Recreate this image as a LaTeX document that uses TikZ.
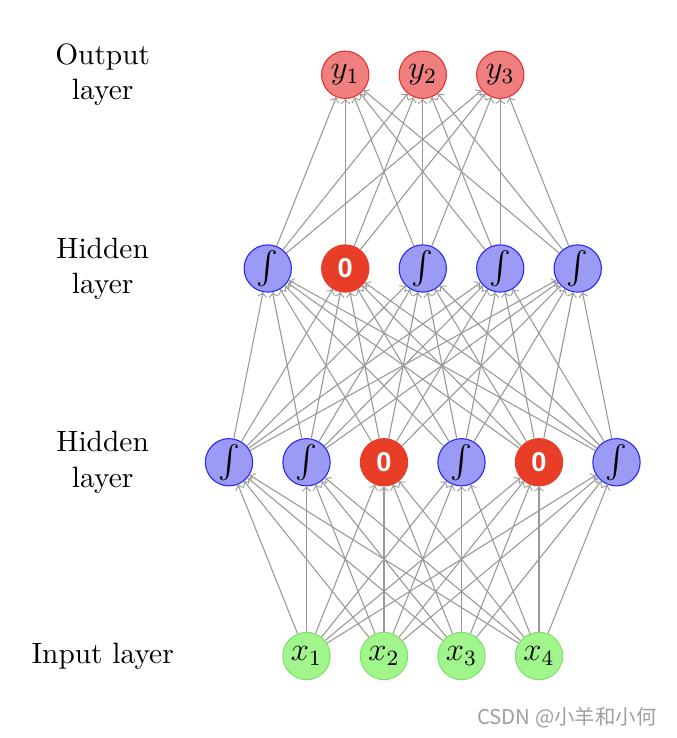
\documentclass[tikz,border=0pt]{standalone}
\usepackage{amsmath}
\usepackage{fontspec}
\newfontfamily\zerofont{Liberation Sans}
\newfontfamily\cjkfont{Noto Sans CJK SC}
\definecolor{infill}{RGB}{160,245,140}
\definecolor{indraw}{RGB}{130,225,110}
\definecolor{hidfill}{RGB}{155,155,245}
\definecolor{hiddraw}{RGB}{40,40,240}
\definecolor{dropred}{RGB}{232,62,40}
\definecolor{outfill}{RGB}{240,128,128}
\definecolor{outdraw}{RGB}{228,50,50}
\begin{document}
\begin{tikzpicture}[>=to,x=1cm,y=1cm,font=\fontsize{10.8}{13}\selectfont]
	\useasboundingbox (-4.955,-1.058) rectangle (3.768,8.465);
	\tikzset{
		unit/.style={circle,draw,minimum size=0.61cm,inner sep=0pt,font=\fontsize{12}{14}\selectfont},
		inunit/.style={unit,draw=indraw,fill=infill},
		hidunit/.style={unit,draw=hiddraw,fill=hidfill},
		dropunit/.style={unit,draw=dropred,fill=dropred,text=white,font=\zerofont\bfseries\fontsize{10}{12}\selectfont},
		outunit/.style={unit,draw=outdraw,fill=outfill},
		link/.style={->,gray!80,line width=0.4pt}
	}
	\def\sig{$\int$}
	% Các nút của từng lớp
	\foreach \i in {1,...,4} \node[inunit] (I\i) at (\i-2,0) {$x_{\i}$};
	\foreach \i/\s/\t in {1/hidunit/\sig,2/hidunit/\sig,3/dropunit/0,4/hidunit/\sig,5/dropunit/0,6/hidunit/\sig}
		\node[\s] (H\i) at (\i-3,2.5) {\t};
	\foreach \i/\s/\t in {1/hidunit/\sig,2/dropunit/0,3/hidunit/\sig,4/hidunit/\sig,5/hidunit/\sig}
		\node[\s] (K\i) at (\i-2.5,5) {\t};
	\foreach \i in {1,...,3} \node[outunit] (O\i) at (\i-1.5,7.5) {$y_{\i}$};
	% Các cạnh nối
	\foreach \i in {1,...,4} \foreach \j in {1,...,6} \draw[link] (I\i) -- (H\j);
	\foreach \i in {1,...,6} \foreach \j in {1,...,5} \draw[link] (H\i) -- (K\j);
	\foreach \i in {1,...,5} \foreach \j in {1,...,3} \draw[link] (K\i) -- (O\j);
	% Tên các lớp
	\node[align=center] (Lout) at (-3.63,7.5) {Output\\layer};
	\node[align=center] (Lhidb) at (-3.63,5) {Hidden\\layer};
	\node[align=center] (Lhida) at (-3.63,2.5) {Hidden\\layer};
	\node (Lin) at (-3.63,0) {Input layer};
	\node[text=gray!75,font=\cjkfont\fontsize{7.5}{9}\selectfont] (mark) at (2.36,-0.8) {CSDN @小羊和小何};
\end{tikzpicture}
\end{document}
